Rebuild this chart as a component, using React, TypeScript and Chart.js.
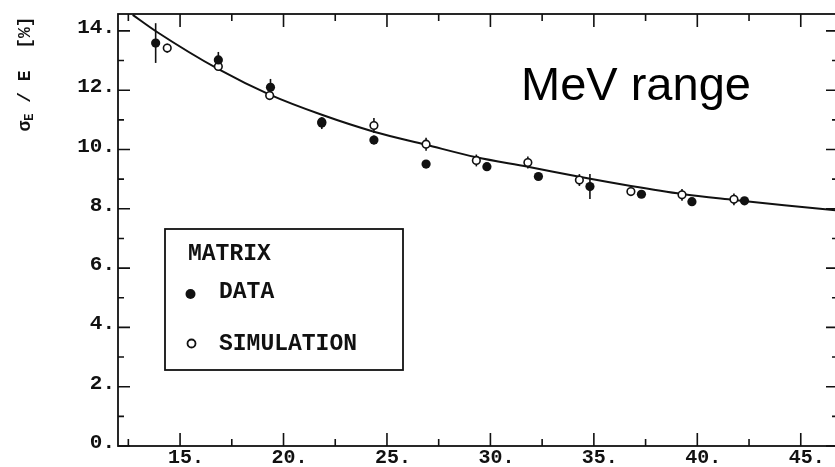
import React, { useEffect, useRef } from "react";
import { Chart, registerables } from "chart.js";

Chart.register(...registerables);

// ---- data ----
const dataEnergy = [13.82, 16.85, 19.37, 21.85, 24.37, 26.89, 29.83, 32.32, 34.81, 37.3, 39.74, 42.28];
const dataResolution = [13.59, 13.02, 12.1, 10.89, 10.32, 9.51, 9.42, 9.09, 8.75, 8.49, 8.24, 8.27];
const dataError = [0.67, 0.27, 0.28, 0.2, 0.15, 0.1, 0.1, 0.12, 0.42, 0.1, 0.1, 0.1];

const simEnergy = [14.38, 16.85, 19.33, 21.85, 24.37, 26.89, 29.32, 31.81, 34.3, 36.79, 39.26, 41.77];
const simResolution = [13.42, 12.8, 11.82, 10.93, 10.81, 10.18, 9.63, 9.56, 8.97, 8.58, 8.47, 8.32];
const simError = [0.15, 0.12, 0.15, 0.12, 0.25, 0.22, 0.2, 0.2, 0.2, 0.12, 0.2, 0.2];

const fitEnergy = [12.71, 13.85, 16.9, 19.33, 21.85, 24.37, 26.89, 29.32, 31.81, 34.3, 36.79, 39.26, 41.77, 44.2, 46.8];
const fitResolution = [14.54, 13.98, 12.69, 11.85, 11.17, 10.6, 10.16, 9.74, 9.42, 9.08, 8.77, 8.5, 8.3, 8.12, 7.94];

const xMajorTicks = [15, 20, 25, 30, 35, 40, 45];
const xTickLabels = ["15.", "20.", "25.", "30.", "35.", "40.", "45."];
const xMinorTicks = [12.5, 17.5, 22.5, 27.5, 32.5, 37.5, 42.5];
const yMajorTicks = [0, 2, 4, 6, 8, 10, 12, 14];
const yTickLabels = ["0.", "2.", "4.", "6.", "8.", "10.", "12.", "14."];
const yMinorTicks = [1, 3, 5, 7, 9, 11, 13];

const legendTitle = "MATRIX";
const legendLabels = ["DATA", "SIMULATION"];
const annotationText = "MeV range";

const X_MIN = 12;
const X_MAX = 46.8;
const Y_MIN = 0;
const Y_MAX = 14.57;

const INK = "#111";
const MONO = "'Liberation Mono', 'DejaVu Sans Mono', monospace";

const drawPlugin = {
  id: "scanFrame",
  beforeDatasetsDraw(chart: any) {
    const ctx = chart.ctx;
    const xs = chart.scales.x;
    const ys = chart.scales.y;
    ctx.save();
    ctx.strokeStyle = INK;
    ctx.lineWidth = 1.6;
    const bars = (ex: number[], vy: number[], er: number[]) => {
      for (let i = 0; i < ex.length; i++) {
        const px = xs.getPixelForValue(ex[i]);
        ctx.beginPath();
        ctx.moveTo(px, ys.getPixelForValue(vy[i] - er[i]));
        ctx.lineTo(px, ys.getPixelForValue(vy[i] + er[i]));
        ctx.stroke();
      }
    };
    bars(simEnergy, simResolution, simError);
    bars(dataEnergy, dataResolution, dataError);
    ctx.restore();
  },
  afterDraw(chart: any) {
    const ctx = chart.ctx;
    const xs = chart.scales.x;
    const ys = chart.scales.y;
    const { left, right, top, bottom } = chart.chartArea;
    ctx.save();
    ctx.strokeStyle = INK;
    ctx.fillStyle = INK;

    // frame
    ctx.lineWidth = 1.8;
    ctx.strokeRect(left, top, right - left, bottom - top);

    // ticks (inward)
    ctx.lineWidth = 1.6;
    const xTick = (v: number, len: number) => {
      const px = xs.getPixelForValue(v);
      ctx.beginPath();
      ctx.moveTo(px, bottom);
      ctx.lineTo(px, bottom - len);
      ctx.moveTo(px, top);
      ctx.lineTo(px, top + len);
      ctx.stroke();
    };
    const yTick = (v: number, len: number) => {
      const py = ys.getPixelForValue(v);
      ctx.beginPath();
      ctx.moveTo(left, py);
      ctx.lineTo(left + len, py);
      ctx.moveTo(right, py);
      ctx.lineTo(right - len, py);
      ctx.stroke();
    };
    xMajorTicks.forEach((v) => xTick(v, 13));
    xMinorTicks.forEach((v) => xTick(v, 7));
    yMajorTicks.forEach((v) => yTick(v, 12));
    yMinorTicks.forEach((v) => yTick(v, 6));

    // tick labels
    ctx.font = `bold 21px ${MONO}`;
    ctx.textBaseline = "alphabetic";
    ctx.textAlign = "right";
    yMajorTicks.forEach((v, i) => {
      const py = ys.getPixelForValue(v);
      ctx.fillText(yTickLabels[i], left - 3, py + 2);
    });
    ctx.font = `bold 20px ${MONO}`;
    ctx.textAlign = "left";
    xMajorTicks.forEach((v, i) => {
      const px = xs.getPixelForValue(v);
      const lbl = xTickLabels[i];
      const w = ctx.measureText(lbl.replace(".", "")).width;
      ctx.fillText(lbl, px - w / 2, bottom + 17);
    });

    // y axis title: sigma_E / E [%]
    ctx.save();
    ctx.translate(25, 74);
    ctx.rotate(-Math.PI / 2);
    ctx.textBaseline = "middle";
    const mainFont = `bold 18px ${MONO}`;
    const subFont = `bold 12px ${MONO}`;
    ctx.font = mainFont;
    const w1 = ctx.measureText("σ").width;
    const w3 = ctx.measureText(" / E  [%]").width;
    ctx.font = subFont;
    const w2 = ctx.measureText("E").width;
    let sx = -(w1 + w2 + w3) / 2;
    ctx.textAlign = "left";
    ctx.font = mainFont;
    ctx.fillText("σ", sx, 0);
    sx += w1;
    ctx.font = subFont;
    ctx.fillText("E", sx, 5);
    sx += w2;
    ctx.font = mainFont;
    ctx.fillText(" / E  [%]", sx, 0);
    ctx.restore();

    // legend box
    ctx.lineWidth = 1.8;
    ctx.strokeRect(165, 229, 238, 141);
    ctx.font = `bold 23px ${MONO}`;
    ctx.textAlign = "left";
    ctx.textBaseline = "alphabetic";
    ctx.fillText(legendTitle, 188, 260);
    ctx.fillText(legendLabels[0], 219, 298);
    ctx.fillText(legendLabels[1], 219, 350);
    ctx.beginPath();
    ctx.arc(190.5, 294, 5, 0, Math.PI * 2);
    ctx.fill();
    ctx.beginPath();
    ctx.lineWidth = 1.8;
    ctx.arc(191.5, 343.5, 4, 0, Math.PI * 2);
    ctx.stroke();

    // annotation
    ctx.font = `47px 'Liberation Sans', Arial, sans-serif`;
    ctx.fillStyle = "#000";
    ctx.fillText(annotationText, 521, 100);
    ctx.restore();
  },
};

export default function App() {
  const ref = useRef<HTMLCanvasElement | null>(null);
  useEffect(() => {
    if (!ref.current) return;
    const chart = new Chart(ref.current, {
      type: "scatter",
      data: {
        datasets: [
          {
            label: legendLabels[0],
            data: dataEnergy.map((x, i) => ({ x, y: dataResolution[i] })),
            pointRadius: 4.6,
            pointBackgroundColor: INK,
            pointBorderColor: INK,
            pointBorderWidth: 0,
            showLine: false,
          },
          {
            label: legendLabels[1],
            data: simEnergy.map((x, i) => ({ x, y: simResolution[i] })),
            pointRadius: 3.8,
            pointBackgroundColor: "#fff",
            pointBorderColor: INK,
            pointBorderWidth: 1.6,
            showLine: false,
          },
          {
            label: "fit",
            type: "line",
            data: fitEnergy.map((x, i) => ({ x, y: fitResolution[i] })),
            borderColor: INK,
            borderWidth: 2,
            pointRadius: 0,
            cubicInterpolationMode: "monotone",
            fill: false,
          } as any,
        ],
      },
      options: {
        responsive: false,
        animation: false,
        devicePixelRatio: 1,
        layout: { padding: { left: 118, right: 7, top: 14, bottom: 21 } },
        plugins: { legend: { display: false }, tooltip: { enabled: false } },
        scales: {
          x: { type: "linear", min: X_MIN, max: X_MAX, display: false },
          y: { type: "linear", min: Y_MIN, max: Y_MAX, display: false },
        },
      },
      plugins: [drawPlugin],
    });
    return () => chart.destroy();
  }, []);
  return (
    <div
      style={{
        position: "absolute",
        left: 0,
        top: 0,
        width: 835,
        height: 467,
        overflow: "hidden",
        background: "#fff",
      }}
    >
      <canvas ref={ref} width={845} height={467} style={{ display: "block" }} />
    </div>
  );
}
